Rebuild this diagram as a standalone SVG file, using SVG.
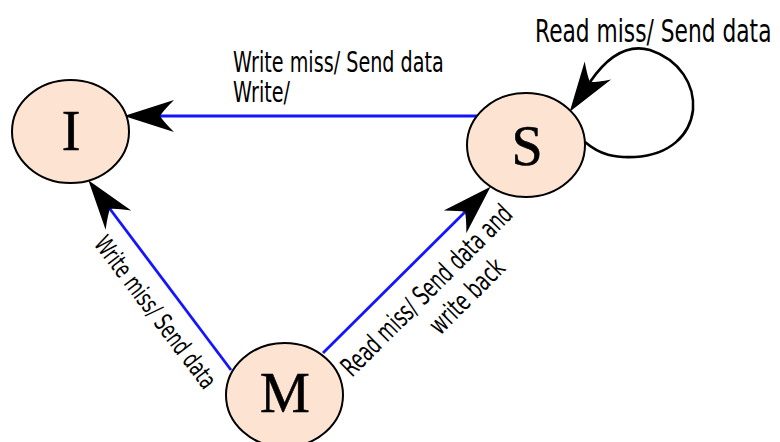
<svg xmlns="http://www.w3.org/2000/svg" width="780" height="442" viewBox="0 0 780 442">
  <style>
    .node { fill: #fde3d1; stroke: #000; stroke-width: 2; }
    .letter { font-family: "Liberation Serif", "Times New Roman", serif; font-size: 56px; fill: #000; text-anchor: middle; stroke: #000; stroke-width: 0.6; }
    .edge { fill: none; stroke: #1414ff; stroke-width: 2.8; }
    .loop { fill: none; stroke: #000; stroke-width: 2.6; }
    .lbl { font-family: "DejaVu Sans", sans-serif; fill: #000; }
  </style>
  <defs>
    <marker id="arr" viewBox="-52 -18 54 36" refX="-36" refY="0" markerWidth="54" markerHeight="36" markerUnits="userSpaceOnUse" orient="auto">
      <path d="M0,0 L-50,-16 Q-39,-5 -36,0 Q-39,5 -50,16 Z" fill="#000"/>
    </marker>
  </defs>

  <g id="connectors">
    <path id="edge-S-I" class="edge" d="M478,116 L160,116" marker-end="url(#arr)"/>
    <path id="edge-M-I" class="edge" d="M231,370 L110,209" marker-end="url(#arr)"/>
    <path id="edge-M-S" class="edge" d="M323,353 L465,212" marker-end="url(#arr)"/>
    <path id="edge-S-S" class="loop" d="M585,142 C600,155 615,158 635,157 C670,155 690,135 693,110 C695,85 680,60 650,50 C625,43 605,60 590,82" marker-end="url(#arr)"/>
  </g>

  <g id="labels">
    <text class="lbl" transform="translate(233,72) scale(0.685,1)" font-size="28">Write miss/ Send data</text>
    <text class="lbl" transform="translate(233,102) scale(0.685,1)" font-size="28">Write/</text>
    <text class="lbl" transform="translate(535,42) scale(0.68,1)" font-size="32">Read miss/ Send data</text>
    <text class="lbl" transform="translate(93,244) rotate(52.8) scale(0.67,1)" font-size="25">Write miss/ Send data</text>
    <text class="lbl" transform="translate(352,378) rotate(-45) scale(0.65,1)" font-size="27">Read miss/ Send data and</text>
    <text class="lbl" transform="translate(440,336) rotate(-45) scale(0.67,1)" font-size="27">write back</text>
  </g>

  <g id="node-I">
    <ellipse class="node" cx="70.5" cy="131.5" rx="58.5" ry="51.5"/>
    <text class="letter" x="71" y="150">I</text>
  </g>
  <g id="node-S">
    <ellipse class="node" cx="526" cy="145" rx="59" ry="52"/>
    <text class="letter" x="527" y="165">S</text>
  </g>
  <g id="node-M">
    <ellipse class="node" cx="284.5" cy="395" rx="58.5" ry="52"/>
    <text class="letter" x="285" y="412">M</text>
  </g>
</svg>
